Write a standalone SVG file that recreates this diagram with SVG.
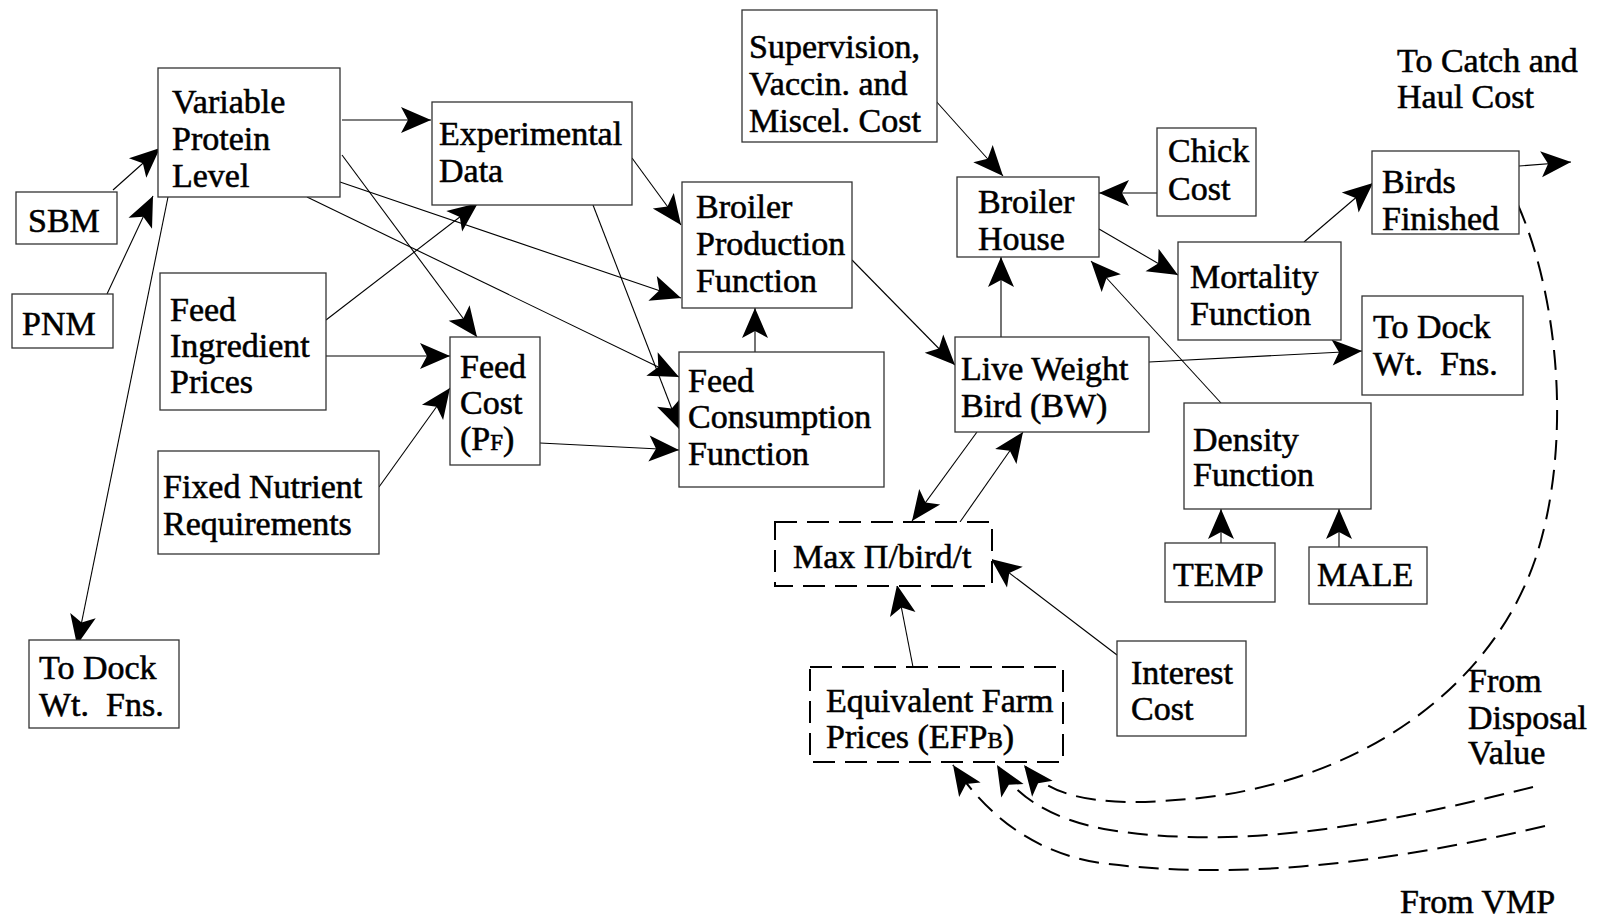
<svg xmlns="http://www.w3.org/2000/svg" width="1606" height="924" viewBox="0 0 1606 924">
<style>
.box{fill:#fff;stroke:#333;stroke-width:1.3}
.dbox{fill:#fff;stroke:#000;stroke-width:2;stroke-dasharray:22 10}
.t{font-family:"Liberation Serif","Times New Roman",serif;font-size:34px;fill:#000;stroke:#000;stroke-width:0.55;white-space:pre}
.sub{font-size:23px}
.c{fill:none;stroke:#000;stroke-width:1.1}
.d{fill:none;stroke:#000;stroke-width:2;stroke-dasharray:20 10}
</style>
<defs>
<marker id="ah" viewBox="-31 -14 32 28" refX="0" refY="0" markerWidth="32" markerHeight="28" markerUnits="userSpaceOnUse" orient="auto">
<path d="M0,0 L-30,-13 L-23,0 L-30,13 Z" fill="#000" stroke="none"/>
</marker>
</defs>
<rect width="1606" height="924" fill="#fff"/>

<g id="connectors">
<line class="c" x1="113" y1="190" x2="160" y2="148" marker-end="url(#ah)"/>
<line class="c" x1="107" y1="294" x2="153" y2="196" marker-end="url(#ah)"/>
<line class="c" x1="342" y1="120" x2="431" y2="120" marker-end="url(#ah)"/>
<line class="c" x1="168" y1="197" x2="77" y2="645" marker-end="url(#ah)"/>
<line class="c" x1="342" y1="155" x2="477" y2="337" marker-end="url(#ah)"/>
<line class="c" x1="340" y1="182" x2="681" y2="298" marker-end="url(#ah)"/>
<line class="c" x1="307" y1="197" x2="679" y2="377" marker-end="url(#ah)"/>
<line class="c" x1="326" y1="320" x2="478" y2="203" marker-end="url(#ah)"/>
<line class="c" x1="326" y1="356" x2="450" y2="356" marker-end="url(#ah)"/>
<line class="c" x1="379" y1="487" x2="450" y2="388" marker-end="url(#ah)"/>
<line class="c" x1="632" y1="158" x2="681" y2="225" marker-end="url(#ah)"/>
<line class="c" x1="593" y1="205" x2="680" y2="430" marker-end="url(#ah)"/>
<line class="c" x1="540" y1="443" x2="679" y2="450" marker-end="url(#ah)"/>
<line class="c" x1="755" y1="352" x2="755" y2="308" marker-end="url(#ah)"/>
<line class="c" x1="852" y1="260" x2="955" y2="365" marker-end="url(#ah)"/>
<line class="c" x1="935" y1="100" x2="1003" y2="176" marker-end="url(#ah)"/>
<line class="c" x1="1157" y1="193" x2="1099" y2="193" marker-end="url(#ah)"/>
<line class="c" x1="1001" y1="337" x2="1001" y2="257" marker-end="url(#ah)"/>
<line class="c" x1="1099" y1="229" x2="1178" y2="275" marker-end="url(#ah)"/>
<line class="c" x1="1221" y1="403" x2="1091" y2="261" marker-end="url(#ah)"/>
<line class="c" x1="1304" y1="242" x2="1373" y2="183" marker-end="url(#ah)"/>
<line class="c" x1="1519" y1="166" x2="1571" y2="162" marker-end="url(#ah)"/>
<line class="c" x1="1149" y1="362" x2="1362" y2="351" marker-end="url(#ah)"/>
<line class="c" x1="977" y1="432" x2="912" y2="521" marker-end="url(#ah)"/>
<line class="c" x1="960" y1="522" x2="1023" y2="432" marker-end="url(#ah)"/>
<line class="c" x1="913" y1="667" x2="897" y2="585" marker-end="url(#ah)"/>
<line class="c" x1="1117" y1="655" x2="991" y2="559" marker-end="url(#ah)"/>
<line class="c" x1="1221" y1="543" x2="1221" y2="509" marker-end="url(#ah)"/>
<line class="c" x1="1339" y1="547" x2="1339" y2="509" marker-end="url(#ah)"/>
<path class="d" d="M1518,205 C1560,300 1572,450 1535,560 C1490,690 1360,780 1200,798 C1120,806 1055,805 1024,765" marker-end="url(#ah)"/>
<path class="d" d="M1533,787 C1400,820 1250,852 1110,830 C1050,820 1015,795 997,765" marker-end="url(#ah)"/>
<path class="d" d="M1545,826 C1400,860 1250,882 1100,863 C1030,852 985,812 953,765" marker-end="url(#ah)"/>
</g>

<g id="vpl"><rect class="box" x="158" y="68" width="182" height="129"/>
<text class="t" x="172" y="113">Variable</text><text class="t" x="172" y="150">Protein</text><text class="t" x="172" y="187">Level</text></g>
<g id="sbm"><rect class="box" x="16" y="192" width="101" height="52"/><text class="t" x="28" y="232">SBM</text></g>
<g id="pnm"><rect class="box" x="12" y="294" width="101" height="54"/><text class="t" x="22" y="335">PNM</text></g>
<g id="fip"><rect class="box" x="160" y="273" width="166" height="137"/>
<text class="t" x="170" y="321">Feed</text><text class="t" x="170" y="357">Ingredient</text><text class="t" x="170" y="393">Prices</text></g>
<g id="fnr"><rect class="box" x="158" y="451" width="221" height="103"/>
<text class="t" x="163" y="498">Fixed Nutrient</text><text class="t" x="163" y="535">Requirements</text></g>
<g id="dock-left"><rect class="box" x="29" y="640" width="150" height="88"/>
<text class="t" x="39" y="679">To Dock</text><text class="t" x="39" y="716">Wt.  Fns.</text></g>
<g id="exp"><rect class="box" x="432" y="102" width="200" height="103"/>
<text class="t" x="439" y="145">Experimental</text><text class="t" x="439" y="182">Data</text></g>
<g id="bpf"><rect class="box" x="682" y="182" width="170" height="126"/>
<text class="t" x="696" y="218">Broiler</text><text class="t" x="696" y="255">Production</text><text class="t" x="696" y="292">Function</text></g>
<g id="feedcost"><rect class="box" x="450" y="337" width="90" height="128"/>
<text class="t" x="460" y="378">Feed</text><text class="t" x="460" y="414">Cost</text><text class="t" x="460" y="450">(P<tspan class="sub">F</tspan>)</text></g>
<g id="fcf"><rect class="box" x="679" y="352" width="205" height="135"/>
<text class="t" x="688" y="392">Feed</text><text class="t" x="688" y="428">Consumption</text><text class="t" x="688" y="465">Function</text></g>
<g id="sup"><rect class="box" x="742" y="10" width="195" height="132"/>
<text class="t" x="749" y="58">Supervision,</text><text class="t" x="749" y="95">Vaccin. and</text><text class="t" x="749" y="132">Miscel. Cost</text></g>
<g id="bh"><rect class="box" x="957" y="177" width="142" height="80"/>
<text class="t" x="978" y="213">Broiler</text><text class="t" x="978" y="250">House</text></g>
<g id="chick"><rect class="box" x="1157" y="128" width="99" height="88"/>
<text class="t" x="1168" y="162">Chick</text><text class="t" x="1168" y="200">Cost</text></g>
<g id="lw"><rect class="box" x="955" y="337" width="194" height="95"/>
<text class="t" x="961" y="380">Live Weight</text><text class="t" x="961" y="417">Bird (BW)</text></g>
<g id="catch"><text class="t" x="1397" y="72">To Catch and</text><text class="t" x="1397" y="108">Haul Cost</text></g>
<g id="bf"><rect class="box" x="1372" y="151" width="147" height="83"/>
<text class="t" x="1382" y="193">Birds</text><text class="t" x="1382" y="230">Finished</text></g>
<g id="mort"><rect class="box" x="1178" y="242" width="163" height="98"/>
<text class="t" x="1190" y="288">Mortality</text><text class="t" x="1190" y="325">Function</text></g>
<g id="dock-right"><rect class="box" x="1362" y="296" width="161" height="99"/>
<text class="t" x="1373" y="338">To Dock</text><text class="t" x="1373" y="375">Wt.  Fns.</text></g>
<g id="max"><rect class="dbox" x="775" y="522" width="217" height="64"/>
<text class="t" x="793" y="568">Max Π/bird/t</text></g>
<g id="efp"><rect class="dbox" x="810" y="667" width="253" height="95"/>
<text class="t" x="826" y="712">Equivalent Farm</text><text class="t" x="826" y="748">Prices (EFP<tspan class="sub">B</tspan>)</text></g>
<g id="interest"><rect class="box" x="1117" y="641" width="129" height="95"/>
<text class="t" x="1131" y="684">Interest</text><text class="t" x="1131" y="720">Cost</text></g>
<g id="density"><rect class="box" x="1184" y="403" width="187" height="106"/>
<text class="t" x="1193" y="451">Density</text><text class="t" x="1193" y="486">Function</text></g>
<g id="temp"><rect class="box" x="1165" y="543" width="110" height="59"/><text class="t" x="1173" y="586">TEMP</text></g>
<g id="male"><rect class="box" x="1309" y="547" width="118" height="57"/><text class="t" x="1317" y="586">MALE</text></g>
<g id="disposal"><text class="t" x="1468" y="692">From</text><text class="t" x="1468" y="729">Disposal</text><text class="t" x="1468" y="764">Value</text></g>
<g id="vmp"><text class="t" x="1400" y="913">From VMP</text></g>
</svg>
